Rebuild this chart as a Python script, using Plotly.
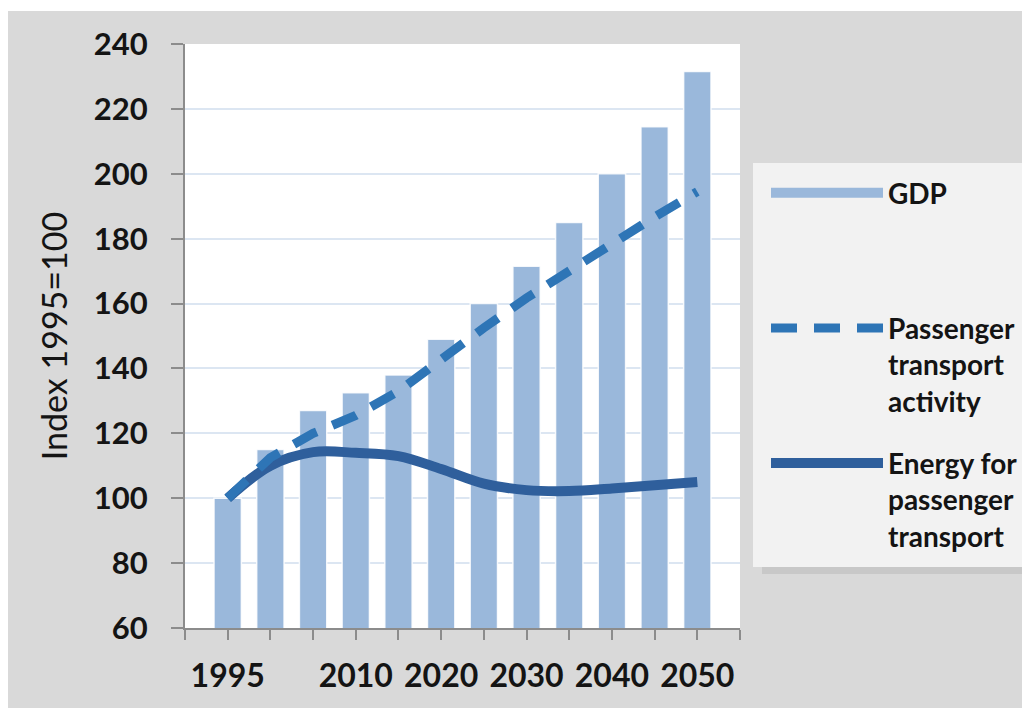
import plotly.graph_objects as go

years = [1995, 2000, 2005, 2010, 2015, 2020, 2025, 2030, 2035, 2040, 2045, 2050]
gdp = [100, 115, 127, 132.5, 138, 149, 160, 171.5, 185, 200, 214.5, 231.5]
passenger_activity = [100, 112.5, 120, 125.5, 133, 143, 152.5, 161.7, 170.3, 178.7, 186.7, 194.5]
passenger_energy = [100, 110, 114.2, 114, 113, 109, 104.5, 102.5, 102.2, 103, 104, 105]

x_tick_vals = [1990, 1995, 2000, 2005, 2010, 2015, 2020, 2025, 2030, 2035, 2040, 2045, 2050, 2055]
x_tick_text = ["", "1995", "", "", "2010", "", "2020", "", "2030", "", "2040", "", "2050", ""]

names = ["GDP", "Passenger<br>transport<br>activity", "Energy for<br>passenger<br>transport"]

BAR_COLOR = "#9ab8db"
DASH_COLOR = "#2e75b6"
SOLID_COLOR = "#2f5f9c"
TEXT_COLOR = "#141414"
FONT = "Lato"

fig = go.Figure()

fig.add_trace(go.Bar(
    x=years, y=gdp, width=3.2, name=names[0], showlegend=False,
    marker=dict(color=BAR_COLOR, line=dict(color="rgba(255,255,255,0.85)", width=1.5)),
))
fig.add_trace(go.Scatter(
    x=years, y=passenger_energy, mode="lines", name=names[2],
    legendrank=3, legendgroup="c",
    line=dict(color=SOLID_COLOR, width=10, shape="spline", smoothing=1.0),
))
fig.add_trace(go.Scatter(
    x=years, y=passenger_activity, mode="lines", name=names[1],
    legendrank=2, legendgroup="b",
    line=dict(color=DASH_COLOR, width=9, dash="26px,17px"),
))
# legend-only entry for the bars (long flat swatch like the original)
fig.add_trace(go.Scatter(
    x=[None], y=[None], mode="lines", name=names[0] + "<br> <br> ",
    legendrank=1, legendgroup="a",
    line=dict(color=BAR_COLOR, width=13),
))

def py(s):
    """screen pixel row -> paper y (plot area spans rows 44..628)"""
    return (628 - s) / 584

def px(s):
    """screen pixel column -> paper x (plot area spans columns 185..740)"""
    return (s - 185) / 555

fig.update_layout(
    width=1030, height=708,
    margin=dict(l=177, r=298, t=36, b=88),
    paper_bgcolor="#d9d9d9",
    plot_bgcolor="#ffffff",
    font=dict(family=FONT, color=TEXT_COLOR),
    showlegend=True,
    legend=dict(
        x=px(766), y=py(168), xanchor="left", yanchor="top",
        bgcolor="rgba(0,0,0,0)", borderwidth=0,
        font=dict(family=FONT, size=28, weight=700, color=TEXT_COLOR),
        itemwidth=112, valign="top", tracegroupgap=23,
        traceorder="grouped",
    ),
    shapes=[
        # soft shadow under the legend panel
        dict(type="rect", xref="paper", yref="paper", x0=px(762), x1=1.7,
             y0=py(574), y1=py(560), fillcolor="rgba(150,150,150,0.25)",
             line_width=0, layer="above"),
        # legend panel
        dict(type="rect", xref="paper", yref="paper", x0=px(753), x1=1.7,
             y0=py(567), y1=py(163), fillcolor="#f2f2f2",
             line_width=0, layer="above"),
        # thin white strip at the very top
        dict(type="rect", xref="paper", yref="paper", x0=-0.5, x1=1.7,
             y0=py(11), y1=py(6), fillcolor="#ffffff", line_width=0, layer="above"),
    ],
)

fig.update_xaxes(
    type="linear", range=[1990, 2055],
    tickmode="array", tickvals=x_tick_vals, ticktext=x_tick_text,
    ticks="outside", ticklen=10, tickwidth=1.5, tickcolor="#8c8c8c",
    showline=True, linecolor="#8c8c8c", linewidth=2,
    showgrid=False, zeroline=False,
    tickfont=dict(family=FONT, size=32, weight=700, color=TEXT_COLOR),
    ticklabelstandoff=9,
)
fig.update_yaxes(
    range=[60, 240], tickmode="linear", tick0=60, dtick=20,
    ticks="outside", ticklen=12, tickwidth=1.5, tickcolor="#8c8c8c",
    showline=True, linecolor="#8c8c8c", linewidth=2,
    showgrid=True, gridcolor="#dce6f2", gridwidth=1.5, zeroline=False,
    tickfont=dict(family=FONT, size=31, weight=700, color=TEXT_COLOR),
    ticklabelstandoff=17,
    title=dict(text="Index 1995=100", standoff=16,
               font=dict(family=FONT, size=34, color=TEXT_COLOR)),
)

fig.write_html("out.html")
